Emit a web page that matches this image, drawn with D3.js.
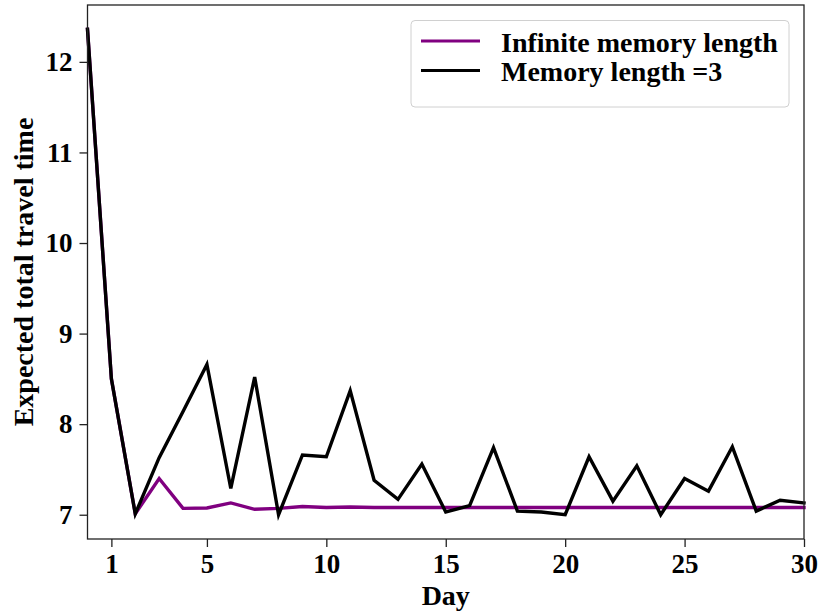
<!DOCTYPE html>
<html>
<head>
<meta charset="utf-8">
<script src="https://cdn.jsdelivr.net/npm/d3@7"></script>
<style>
  body { margin: 0; background: #fff; }
  svg { display: block; }
  text { font-family: "Liberation Serif", "Times New Roman", serif; font-weight: bold; fill: #000; }
</style>
</head>
<body>
<svg id="chart" width="819" height="611"></svg>
<script>
// Day index 0..30
const days = d3.range(0, 31);

// Expected total travel time, infinite memory length
const infiniteMemory = [12.36, 8.50, 7.01, 7.40, 7.07, 7.074, 7.13, 7.06, 7.07, 7.09,
  7.08, 7.085, 7.08, 7.08, 7.08, 7.08, 7.08, 7.08, 7.08, 7.08,
  7.08, 7.08, 7.08, 7.08, 7.08, 7.08, 7.08, 7.08, 7.08, 7.08, 7.08];

// Expected total travel time, memory length = 3
const memoryThree = [12.36, 8.50, 7.01, 7.63, 8.14, 8.66, 7.29, 8.52, 7.00, 7.66,
  7.64, 8.37, 7.38, 7.17, 7.56, 7.03, 7.10, 7.74, 7.04, 7.03,
  7.00, 7.64, 7.15, 7.54, 7.00, 7.40, 7.26, 7.75, 7.04, 7.16, 7.13];

const xTicks = [1, 5, 10, 15, 20, 25, 30];
const yTicks = [7, 8, 9, 10, 11, 12];

const seriesNames = ["Infinite memory length", "Memory length =3"];
const seriesColors = ["#800080", "#000000"];

const svg = d3.select("#chart");
const plotLeft = 87.5, plotRight = 804, plotTop = 5, plotBottom = 539;

// y limits padded by 5% of the data range
const allVals = infiniteMemory.concat(memoryThree);
const yMin = d3.min(allVals), yMax = d3.max(allVals);
const pad = (yMax - yMin) * 0.05;

const x = d3.scaleLinear().domain([0, 30]).range([plotLeft, plotRight]);
const y = d3.scaleLinear().domain([yMin - pad, yMax + pad]).range([plotBottom, plotTop]);

// Axes
const xAxis = svg.append("g")
  .attr("transform", `translate(0,${plotBottom})`)
  .call(d3.axisBottom(x).tickValues(xTicks).tickFormat(d3.format("d")).tickSize(8).tickPadding(7));
const yAxis = svg.append("g")
  .attr("transform", `translate(${plotLeft},0)`)
  .call(d3.axisLeft(y).tickValues(yTicks).tickFormat(d3.format("d")).tickSize(8).tickPadding(7));

[xAxis, yAxis].forEach(g => {
  g.select(".domain").remove();
  g.selectAll(".tick line").attr("stroke", "#222").attr("stroke-width", 1.3);
  g.selectAll(".tick text").style("font-size", "27px").style("font-family", '"Liberation Serif", serif').style("font-weight", "bold").attr("fill", "#000");
});

// Lines
const line = d3.line().x((d, i) => x(days[i])).y(d => y(d));
[infiniteMemory, memoryThree].forEach((vals, k) => {
  svg.append("path")
    .datum(vals)
    .attr("d", line)
    .attr("fill", "none")
    .attr("stroke", seriesColors[k])
    .attr("stroke-width", 3.4)
    .attr("stroke-linejoin", "miter")
    .attr("stroke-linecap", "square");
});

// Frame
svg.append("rect")
  .attr("x", plotLeft).attr("y", plotTop)
  .attr("width", plotRight - plotLeft).attr("height", plotBottom - plotTop)
  .attr("fill", "none").attr("stroke", "#222").attr("stroke-width", 1.3);

// Axis titles
svg.append("text")
  .attr("x", (plotLeft + plotRight) / 2).attr("y", 605)
  .attr("text-anchor", "middle")
  .style("font-size", "28px")
  .text("Day");
svg.append("text")
  .attr("transform", `translate(33,${(plotTop + plotBottom) / 2}) rotate(-90)`)
  .attr("text-anchor", "middle")
  .style("font-size", "28px")
  .text("Expected total travel time");

// Legend
const legend = svg.append("g");
legend.append("rect")
  .attr("x", 411).attr("y", 20.5).attr("width", 378).attr("height", 86.5)
  .attr("rx", 4).attr("fill", "#fff").attr("stroke", "#d0d0d0").attr("stroke-width", 1);
seriesNames.forEach((name, k) => {
  const cy = 41 + k * 29.5;
  legend.append("line")
    .attr("x1", 421).attr("x2", 480).attr("y1", cy).attr("y2", cy)
    .attr("stroke", seriesColors[k]).attr("stroke-width", 3.2);
  legend.append("text")
    .attr("x", 501).attr("y", cy + 10.5)
    .style("font-size", "28px")
    .text(name);
});
</script>
</body>
</html>
